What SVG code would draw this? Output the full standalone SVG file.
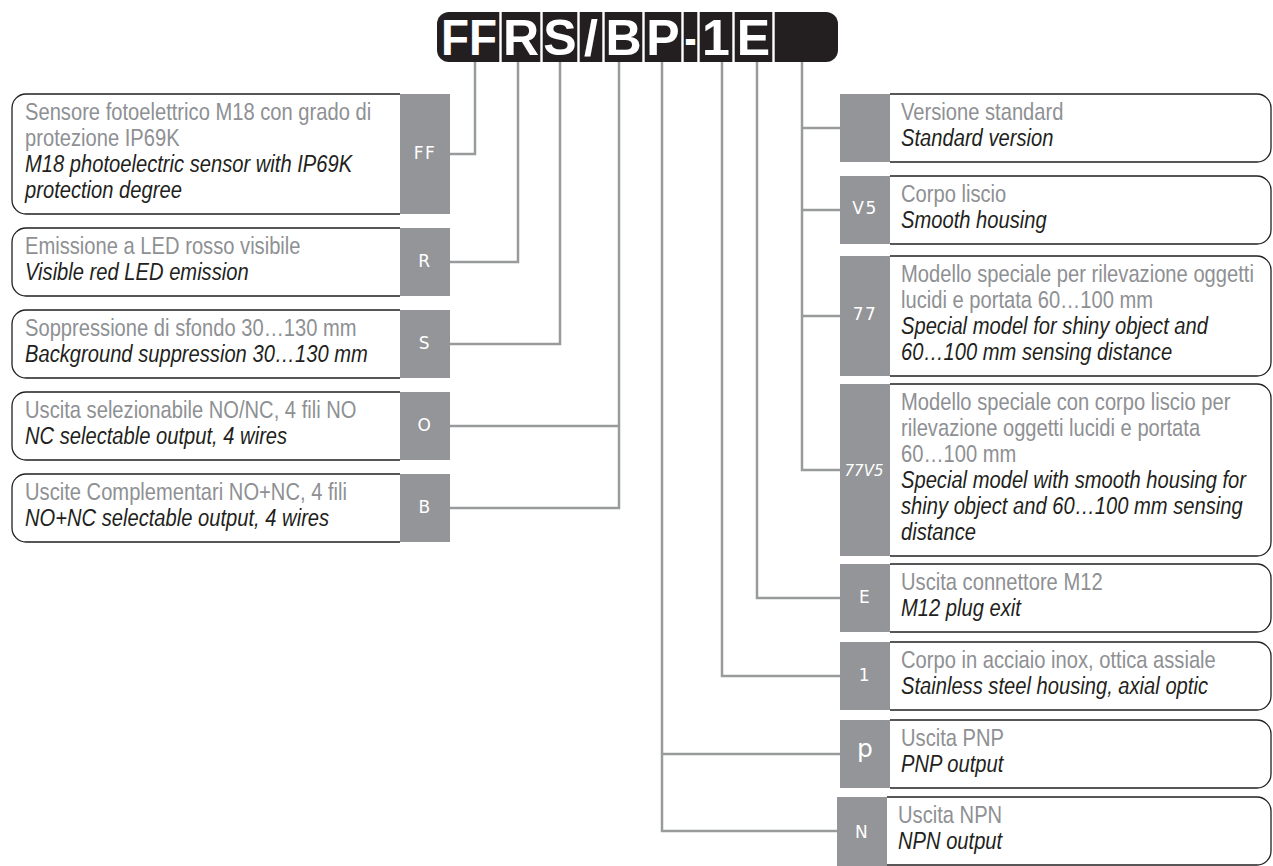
<svg xmlns="http://www.w3.org/2000/svg" width="1273" height="866" viewBox="0 0 1273 866">
<style>
.it{font-family:"Liberation Sans",Arial,sans-serif;font-size:24px;fill:#8e9093}
.en{font-family:"Liberation Sans",Arial,sans-serif;font-size:24px;font-style:italic;fill:#231f20}
.lbl{font-family:"DejaVu Sans","Liberation Sans",sans-serif;font-size:17px;fill:#fff;text-anchor:middle;letter-spacing:1.5px}
.box{fill:#fff;stroke:#231f20;stroke-width:1.3}
.code{fill:#939598}
.conn{stroke:#999a9c;stroke-width:2.5;fill:none}
.hd{font-family:"Liberation Sans",Arial,sans-serif;font-size:50px;font-weight:bold;fill:#fff;text-anchor:middle}
.div{stroke:#fff;stroke-width:2.4}
</style>
<g id="header">
<rect x="437" y="12" width="401" height="50" rx="12" fill="#231f20"/>
<line class="div" x1="500.5" y1="12" x2="500.5" y2="62"/>
<line class="div" x1="541.5" y1="12" x2="541.5" y2="62"/>
<line class="div" x1="578.5" y1="12" x2="578.5" y2="62"/>
<line class="div" x1="603.5" y1="12" x2="603.5" y2="62"/>
<line class="div" x1="643.5" y1="12" x2="643.5" y2="62"/>
<line class="div" x1="682.5" y1="12" x2="682.5" y2="62"/>
<line class="div" x1="698.5" y1="12" x2="698.5" y2="62"/>
<line class="div" x1="733.5" y1="12" x2="733.5" y2="62"/>
<line class="div" x1="773.5" y1="12" x2="773.5" y2="62"/>
<text class="hd" x="469" y="55" textLength="56" lengthAdjust="spacingAndGlyphs">FF</text>
<text class="hd" x="521" y="55">R</text>
<text class="hd" x="560" y="55">S</text>
<text class="hd" x="591" y="55">/</text>
<text class="hd" x="623.5" y="55">B</text>
<text class="hd" x="663" y="55">P</text>
<text class="hd" x="690.5" y="55" textLength="12" lengthAdjust="spacingAndGlyphs">-</text>
<text class="hd" x="716" y="55">1</text>
<text class="hd" x="753.5" y="55">E</text>
</g>
<g id="connectors">
<path class="conn" d="M475,62 V154 H450"/>
<path class="conn" d="M518,62 V262 H450"/>
<path class="conn" d="M560,62 V344 H450"/>
<path class="conn" d="M619,62 V508 H450 M619,426 H450"/>
<path class="conn" d="M802,62 V470 H840 M802,128 H840 M802,210 H840 M802,316 H840"/>
<path class="conn" d="M757,62 V598 H840"/>
<path class="conn" d="M722,62 V676 H840"/>
<path class="conn" d="M662,62 V831 H837 M662,754 H840"/>
</g>
<g id="node-FF">
<path class="box" d="M400,94 H26 A14,14 0 0 0 12,108 V200 A14,14 0 0 0 26,214 H400"/>
<rect class="code" x="400" y="94" width="50" height="120"/>
<text class="lbl" x="425" y="159">FF</text>
<g transform="translate(25 0) scale(0.84 1)">
<text class="it" x="0" y="120">Sensore fotoelettrico M18 con grado di</text>
<text class="it" x="0" y="146">protezione IP69K</text>
<text class="en" x="0" y="172">M18 photoelectric sensor with IP69K</text>
<text class="en" x="0" y="198">protection degree</text>
</g>
</g>
<g id="node-R">
<path class="box" d="M400,228 H26 A14,14 0 0 0 12,242 V282 A14,14 0 0 0 26,296 H400"/>
<rect class="code" x="400" y="228" width="50" height="68"/>
<text class="lbl" x="425" y="267">R</text>
<g transform="translate(25 0) scale(0.84 1)">
<text class="it" x="0" y="254">Emissione a LED rosso visibile</text>
<text class="en" x="0" y="280">Visible red LED emission</text>
</g>
</g>
<g id="node-S">
<path class="box" d="M400,310 H26 A14,14 0 0 0 12,324 V364 A14,14 0 0 0 26,378 H400"/>
<rect class="code" x="400" y="310" width="50" height="68"/>
<text class="lbl" x="425" y="349">S</text>
<g transform="translate(25 0) scale(0.84 1)">
<text class="it" x="0" y="336">Soppressione di sfondo 30…130 mm</text>
<text class="en" x="0" y="362">Background suppression 30…130 mm</text>
</g>
</g>
<g id="node-O">
<path class="box" d="M400,392 H26 A14,14 0 0 0 12,406 V446 A14,14 0 0 0 26,460 H400"/>
<rect class="code" x="400" y="392" width="50" height="68"/>
<text class="lbl" x="425" y="431">O</text>
<g transform="translate(25 0) scale(0.84 1)">
<text class="it" x="0" y="418">Uscita selezionabile NO/NC, 4 fili NO</text>
<text class="en" x="0" y="444">NC selectable output, 4 wires</text>
</g>
</g>
<g id="node-B">
<path class="box" d="M400,474 H26 A14,14 0 0 0 12,488 V528 A14,14 0 0 0 26,542 H400"/>
<rect class="code" x="400" y="474" width="50" height="68"/>
<text class="lbl" x="425" y="513">B</text>
<g transform="translate(25 0) scale(0.84 1)">
<text class="it" x="0" y="500">Uscite Complementari NO+NC, 4 fili</text>
<text class="en" x="0" y="526">NO+NC selectable output, 4 wires</text>
</g>
</g>
<g id="node-std">
<path class="box" d="M890,94 H1257 A14,14 0 0 1 1271,108 V148 A14,14 0 0 1 1257,162 H890"/>
<rect class="code" x="840" y="94" width="50" height="68"/>
<g transform="translate(901 0) scale(0.84 1)">
<text class="it" x="0" y="120">Versione standard</text>
<text class="en" x="0" y="146">Standard version</text>
</g>
</g>
<g id="node-V5">
<path class="box" d="M890,176 H1257 A14,14 0 0 1 1271,190 V230 A14,14 0 0 1 1257,244 H890"/>
<rect class="code" x="840" y="176" width="50" height="68"/>
<text class="lbl" x="865" y="214">V5</text>
<g transform="translate(901 0) scale(0.84 1)">
<text class="it" x="0" y="202">Corpo liscio</text>
<text class="en" x="0" y="228">Smooth housing</text>
</g>
</g>
<g id="node-77">
<path class="box" d="M890,256 H1257 A14,14 0 0 1 1271,270 V362 A14,14 0 0 1 1257,376 H890"/>
<rect class="code" x="840" y="256" width="50" height="120"/>
<text class="lbl" x="865" y="320">77</text>
<g transform="translate(901 0) scale(0.84 1)">
<text class="it" x="0" y="282">Modello speciale per rilevazione oggetti</text>
<text class="it" x="0" y="308">lucidi e portata 60…100 mm</text>
<text class="en" x="0" y="334">Special model for shiny object and</text>
<text class="en" x="0" y="360">60…100 mm sensing distance</text>
</g>
</g>
<g id="node-77V5">
<path class="box" d="M890,384 H1257 A14,14 0 0 1 1271,398 V542 A14,14 0 0 1 1257,556 H890"/>
<rect class="code" x="840" y="384" width="50" height="172"/>
<text class="lbl" x="864" y="476" style="font-style:italic;letter-spacing:0;font-size:15px">77V5</text>
<g transform="translate(901 0) scale(0.84 1)">
<text class="it" x="0" y="410">Modello speciale con corpo liscio per</text>
<text class="it" x="0" y="436">rilevazione oggetti lucidi e portata</text>
<text class="it" x="0" y="462">60…100 mm</text>
<text class="en" x="0" y="488">Special model with smooth housing for</text>
<text class="en" x="0" y="514">shiny object and 60…100 mm sensing</text>
<text class="en" x="0" y="540">distance</text>
</g>
</g>
<g id="node-E">
<path class="box" d="M890,564 H1257 A14,14 0 0 1 1271,578 V618 A14,14 0 0 1 1257,632 H890"/>
<rect class="code" x="840" y="564" width="50" height="68"/>
<text class="lbl" x="865" y="603">E</text>
<g transform="translate(901 0) scale(0.84 1)">
<text class="it" x="0" y="590">Uscita connettore M12</text>
<text class="en" x="0" y="616">M12 plug exit</text>
</g>
</g>
<g id="node-1">
<path class="box" d="M890,642 H1257 A14,14 0 0 1 1271,656 V696 A14,14 0 0 1 1257,710 H890"/>
<rect class="code" x="840" y="642" width="50" height="68"/>
<text class="lbl" x="865" y="681">1</text>
<g transform="translate(901 0) scale(0.84 1)">
<text class="it" x="0" y="668">Corpo in acciaio inox, ottica assiale</text>
<text class="en" x="0" y="694">Stainless steel housing, axial optic</text>
</g>
</g>
<g id="node-p">
<path class="box" d="M890,720 H1257 A14,14 0 0 1 1271,734 V774 A14,14 0 0 1 1257,788 H890"/>
<rect class="code" x="840" y="720" width="50" height="68"/>
<text class="lbl" x="865" y="757" style="font-size:25px;letter-spacing:0">p</text>
<g transform="translate(901 0) scale(0.84 1)">
<text class="it" x="0" y="746">Uscita PNP</text>
<text class="en" x="0" y="772">PNP output</text>
</g>
</g>
<g id="node-N">
<path class="box" d="M887,797 H1257 A14,14 0 0 1 1271,811 V851 A14,14 0 0 1 1257,865 H887"/>
<rect class="code" x="837" y="797" width="50" height="69"/>
<text class="lbl" x="862" y="838">N</text>
<g transform="translate(898 0) scale(0.84 1)">
<text class="it" x="0" y="823">Uscita NPN</text>
<text class="en" x="0" y="849">NPN output</text>
</g>
</g>
</svg>
